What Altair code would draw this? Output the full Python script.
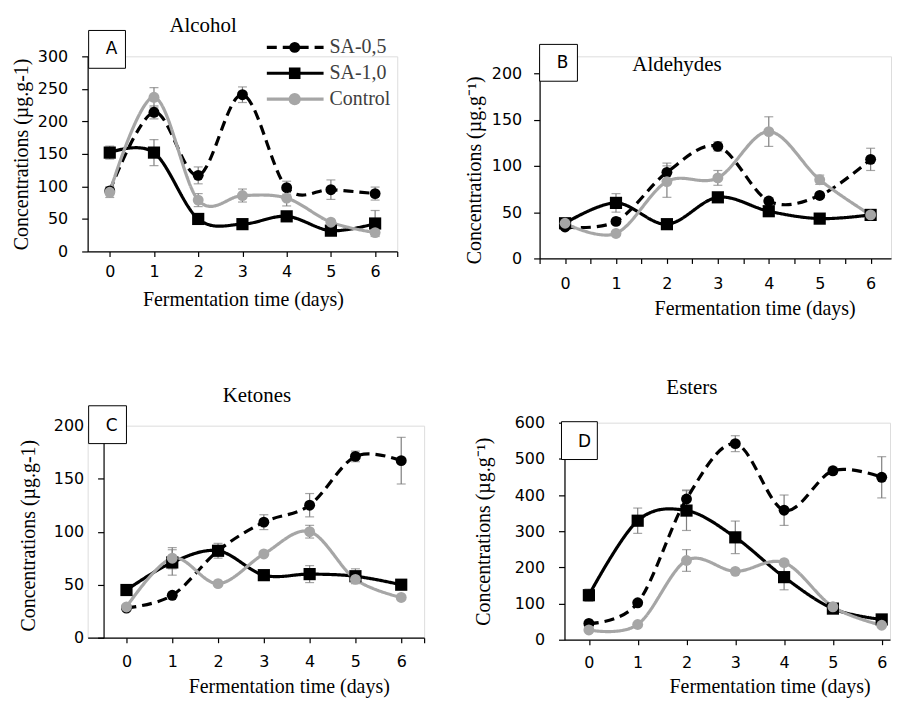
import altair as alt
import pandas as pd

days = [0, 1, 2, 3, 4, 5, 6]
series = ["SA-0,5", "SA-1,0", "Control"]

# Panel A - Alcohol
alc_sa05 = [93, 214, 117, 241, 98, 95, 89]
alc_sa05_err = [6, 10, 13, 12, 10, 15, 10]
alc_sa10 = [152, 152, 50, 42, 54, 32, 43]
alc_sa10_err = [10, 20, 0, 0, 0, 0, 20]
alc_ctrl = [91, 237, 79, 86, 82, 45, 29]
alc_ctrl_err = [8, 15, 10, 10, 12, 0, 0]

# Panel B - Aldehydes
ald_sa05 = [34, 40, 93, 121, 62, 68, 107]
ald_sa05_err = [0, 0, 10, 5, 0, 0, 12]
ald_sa10 = [38, 60, 37, 66, 51, 43, 47]
ald_sa10_err = [0, 10, 0, 0, 0, 0, 0]
ald_ctrl = [38, 27, 83, 87, 137, 85, 47]
ald_ctrl_err = [0, 0, 17, 8, 16, 5, 0]

# Panel C - Ketones
ket_sa05 = [28, 40, 82, 109, 125, 171, 167]
ket_sa05_err = [0, 0, 0, 7, 11, 5, 22]
ket_sa10 = [45, 71, 82, 59, 60, 58, 50]
ket_sa10_err = [0, 12, 7, 0, 8, 7, 0]
ket_ctrl = [29, 75, 51, 79, 100, 55, 38]
ket_ctrl_err = [0, 10, 0, 0, 6, 0, 0]

# Panel D - Esters
est_sa05 = [45, 102, 389, 542, 358, 467, 449]
est_sa05_err = [0, 0, 25, 22, 42, 10, 57]
est_sa10 = [123, 329, 357, 283, 173, 86, 56]
est_sa10_err = [17, 35, 55, 45, 35, 0, 0]
est_ctrl = [27, 42, 219, 189, 213, 91, 40]
est_ctrl_err = [0, 0, 30, 0, 0, 0, 0]

SANS = "DejaVu Sans"
SERIF = "Liberation Serif"
colors = {"SA-0,5": "#000000", "SA-1,0": "#000000", "Control": "#a6a6a6"}
dashes = {"SA-0,5": [10, 6], "SA-1,0": [1, 0], "Control": [1, 0]}
shapes = {"SA-0,5": "circle", "SA-1,0": "square", "Control": "circle"}
sizes = {"SA-0,5": 120, "SA-1,0": 150, "Control": 120}


def make_df(vals, errs):
    rows = []
    for s, v, e in zip(series, vals, errs):
        for d, y, er in zip(days, v, e):
            rows.append({"day": d, "series": s, "value": y, "err": er,
                         "lo": y - er, "hi": y + er})
    return pd.DataFrame(rows)


def panel(vals, errs, ytop, ymax, ystep, width, height, xmin, xmax, xticks,
          yoffset, ytitle, ylabpad, ytitle_x, ytitle_y, xlabpad, xtitle,
          xtitle_x, xtitle_y, title, title_xy, letter, box, letter_xy, frame,
          legend=False):
    df = make_df(vals, errs)
    xs = alt.Scale(domain=[xmin, xmax], nice=False, zero=False)
    ys = alt.Scale(domain=[0, ytop], nice=False)
    xax = alt.Axis(values=xticks, grid=False, domainColor="#000", tickColor="#000",
                   tickSize=5, domainWidth=1.2, tickWidth=1.2,
                   labelExpr="datum.value % 1 === 0 && datum.value >= 0 ? format(datum.value, 'd') : ''",
                   labelFont=SANS, labelFontSize=16, labelColor="#000",
                   labelPadding=xlabpad, title=xtitle, titleFont=SERIF,
                   titleFontSize=20, titleFontWeight="normal", titleColor="#000",
                   titleX=xtitle_x, titleY=xtitle_y, titleBaseline="middle",
                   titleAlign="center", labelFlush=False)
    yax = alt.Axis(values=list(range(0, ymax + 1, ystep)), grid=False,
                   domainColor="#000", tickColor="#000", tickSize=6,
                   domainWidth=1.2, tickWidth=1.2, offset=yoffset,
                   labelFont=SANS, labelFontSize=16, labelColor="#000",
                   labelPadding=ylabpad, title=ytitle, titleFont=SERIF,
                   titleFontSize=20, titleFontWeight="normal", titleColor="#000",
                   titleX=ytitle_x, titleY=ytitle_y, titleBaseline="middle",
                   titleAlign="center", titleAngle=270, labelFlush=False)
    X = alt.X("day:Q", scale=xs, axis=xax)
    base = alt.Chart(df)
    layers = []
    ebase = base.transform_filter("datum.err > 0")
    layers.append(ebase.mark_rule(color="#7f7f7f", strokeWidth=1.2).encode(
        x=X, y=alt.Y("lo:Q", scale=ys, axis=yax), y2="hi:Q"))
    for fld in ["lo", "hi"]:
        layers.append(ebase.mark_tick(color="#7f7f7f", orient="horizontal",
                                      size=9, thickness=1.2).encode(
            x=X, y=alt.Y(f"{fld}:Q", scale=ys, axis=yax)))
    for s in series:
        sb = base.transform_filter(alt.datum.series == s)
        layers.append(sb.mark_line(interpolate="cardinal", color=colors[s],
                                   strokeWidth=3.2, strokeDash=dashes[s]).encode(
            x=X, y=alt.Y("value:Q", scale=ys, axis=yax), order="day:Q"))
    for s in series:
        sb = base.transform_filter(alt.datum.series == s)
        layers.append(sb.mark_point(filled=True, opacity=1, color=colors[s],
                                    shape=shapes[s], size=sizes[s]).encode(
            x=X, y=alt.Y("value:Q", scale=ys, axis=yax)))
    # invisible frame fixing the panel's layout bounds
    one = pd.DataFrame({"t": [letter]})
    layers.append(alt.Chart(one).mark_rect(opacity=0, fillOpacity=0).encode(
        x=alt.value(-frame[0]), x2=alt.value(width + frame[1]),
        y=alt.value(-frame[2]), y2=alt.value(height + frame[3])))
    # box label
    layers.append(alt.Chart(one).mark_rect(fill="white", stroke="#000",
                                           strokeWidth=1).encode(
        x=alt.value(box[0]), x2=alt.value(box[1]),
        y=alt.value(box[2]), y2=alt.value(box[3])))
    layers.append(alt.Chart(one).mark_text(font=SANS, fontSize=17, color="#000",
                                           align="center", baseline="middle").encode(
        text="t:N", x=alt.value(letter_xy[0]), y=alt.value(letter_xy[1])))
    tt = pd.DataFrame({"t": [title]})
    layers.append(alt.Chart(tt).mark_text(font=SERIF, fontSize=21, color="#000",
                                          align="center", baseline="middle").encode(
        text="t:N", x=alt.value(title_xy[0]), y=alt.value(title_xy[1])))
    ch = alt.layer(*layers)
    if legend:
        ldf = pd.DataFrame({"series": series})
        ly = alt.Y("series:N", scale=alt.Scale(domain=series, range=[-9, 43],
                                               type="point", padding=0), axis=None)
        cs = alt.Color("series:N", scale=alt.Scale(domain=series,
                                                   range=[colors[s] for s in series]), legend=None)
        sd = alt.StrokeDash("series:N", scale=alt.Scale(domain=series,
                                                        range=[dashes[s] for s in series]), legend=None)
        sh = alt.Shape("series:N", scale=alt.Scale(domain=series,
                                                   range=[shapes[s] for s in series]), legend=None)
        sz = alt.Size("series:N", scale=alt.Scale(domain=series,
                                                  range=[sizes[s] for s in series]), legend=None)
        lc = alt.Chart(ldf)
        leg = alt.layer(
            lc.mark_rule(strokeWidth=3.2).encode(
                x=alt.value(180), x2=alt.value(237), y=ly, color=cs, strokeDash=sd),
            lc.mark_point(filled=True, opacity=1).encode(
                x=alt.value(208), y=ly, color=cs, shape=sh, size=sz),
            lc.mark_text(font=SERIF, fontSize=20, color="#404040",
                         align="left", baseline="middle").encode(
                x=alt.value(243), y=ly, text="series:N"),
        )
        ch = alt.layer(ch, leg).resolve_scale(y="independent")
    return ch.properties(width=width, height=height)


ticks_mid = [0, 1, 2, 3, 4, 5, 6, 6.5]
ticks_half = [-0.5, 0, 0.5, 1, 1.5, 2, 2.5, 3, 3.5, 4, 4.5, 5, 5.5, 6]

# frames: (left, right, top, bottom) extents around each plot area
pA = panel([alc_sa05, alc_sa10, alc_ctrl], [alc_sa05_err, alc_sa10_err, alc_ctrl_err],
           300, 300, 50, 311, 196, -0.5, 6.5, ticks_mid, 0,
           "Concentrations (µg.g-1)", 14, -66, 98, 7,
           "Fermentation time (days)", 156, 48,
           "Alcohol", (116, -30), "A", (1, 38, -26, 12), (24, -7),
           (79, 64, 46, 122), legend=True)

pB = panel([ald_sa05, ald_sa10, ald_ctrl], [ald_sa05_err, ald_sa10_err, ald_ctrl_err],
           200 * 203 / 186, 200, 50, 353, 203, -0.5, 6.4, ticks_half, 0,
           "Concentrations (µg.g⁻¹)", 12, -65, 114, 12,
           "Fermentation  time (days)", 216, 50,
           "Aldehydes", (138, 9), "B", (0, 38, -12, 25), (23, 7),
           (77, 0, 46, 115))

pC = panel([ket_sa05, ket_sa10, ket_ctrl], [ket_sa05_err, ket_sa10_err, ket_ctrl_err],
           200, 200, 50, 338, 213, -0.5 - 16 / 46, 6.5, ticks_mid, -16,
           "Concentrations (µg.g-1)", 14, -75, 110, 11,
           "Fermentation time (days)", 202, 49,
           "Ketones", (170, -30), "C", (1, 39, -20, 18), (24, 0),
           (79, 37, 51, 60))

pD = panel([est_sa05, est_sa10, est_ctrl], [est_sa05_err, est_sa10_err, est_ctrl_err],
           600, 600, 100, 327, 218, -0.5, 6.17, [0, 1, 2, 3, 4, 5, 6], 0,
           "Concentrations (µg.g⁻¹)", 14, -81, 109, 10,
           "Fermentation time (days)", 206, 47,
           "Esters", (128, -35), "D", (-3, 33, -1, 37), (20, 19),
           (102, 0, 48, 58))

chart = alt.concat(pA, pB, pC, pD, columns=2, spacing=0, align="none").properties(
    padding=0
).configure_view(strokeWidth=0).configure(background="white")

chart.save("out.html", embed_options={"renderer": "svg", "actions": False})
